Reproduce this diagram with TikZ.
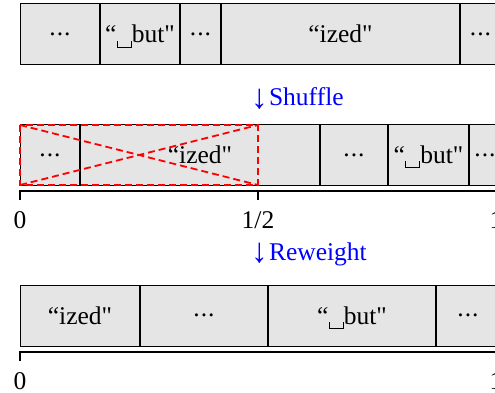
\documentclass[tikz,border=0pt]{standalone}
\usepackage{fontspec}
\setmainfont{Liberation Serif}[Ligatures=TeXOff]
\newcommand\vspc{\raisebox{-0.19em}{\rule{0.05em}{0.28em}\rule{0.5em}{0.05em}\rule{0.05em}{0.28em}}}
\newcommand\darr{\raisebox{-0.08em}{\scalebox{1.3}[1.35]{↓}}\kern0.05em}
\newcommand\dts{\raisebox{0.28em}{.\kern0.04em.\kern0.04em.}}
\tikzset{
  cell/.style={draw=black, fill=black!10, line width=1pt, minimum height=61pt,
    inner sep=0pt, text height=17pt, text depth=0pt, anchor=west,
    font=\fontsize{25.5}{30}\selectfont},
  reddash/.style={draw=red, line width=1.8pt, dash pattern=on 7pt off 4pt},
  ruler/.style={draw=black, line width=2pt},
  lab/.style={anchor=base, inner sep=0pt, font=\fontsize{25.5}{30}\selectfont},
  stepnote/.style={anchor=base west, inner sep=0pt, text=blue, font=\fontsize{25.5}{30}\selectfont}
}
\begin{document}
\begin{tikzpicture}[x=1pt, y=-1pt]
\useasboundingbox (0,0) rectangle (495,393);
\clip (0,0) rectangle (495,393);
% Row 1
\node[cell, minimum width=79pt]  (a1) at (20,34.5) {\dts};
\node[cell, minimum width=79pt]  (a2) at (a1.east) {“\vspc but"};
\node[cell, minimum width=40pt]  (a3) at (a2.east) {\dts};
\node[cell, minimum width=238pt] (a4) at (a3.east) {“ized"};
\node[cell, minimum width=40pt]  (a5) at (a4.east) {\dts};
% Shuffle
\node[stepnote] (shuf) at (251,106) {\darr Shuffle};
% Row 2
\node[cell, minimum width=59pt]  (b1) at (20,155) {\dts};
\node[cell, minimum width=239pt] (b2) at (b1.east) {“ized"};
\node[cell, minimum width=67pt]  (b3) at (b2.east) {\dts};
\node[cell, minimum width=80pt]  (b4) at (b3.east) {“\vspc but"};
\node[cell, minimum width=31pt]  (b5) at (b4.east) {\dts};
% red crossed box
\coordinate (r1) at (20,125);
\coordinate (r2) at (258,185);
\draw[reddash] (r1) rectangle (r2);
\draw[reddash] (r1) -- (r2);
\draw[reddash] (r1 |- r2) -- (r2 |- r1);
% ruler 2
\coordinate (u0) at (20,191);
\coordinate (uh) at (258,191);
\coordinate (u1) at (496,191);
\draw[ruler] ([yshift=-9pt]u0) -- (u0) -- (u1) -- ([yshift=-9pt]u1);
\draw[ruler] (uh) -- ([yshift=-9pt]uh);
\node[lab] (l0) at (20,228) {0};
\node[lab] (lh) at (258,228) {1/2};
\node[lab] (l1) at (496,228) {1};
% Reweight
\node[stepnote] (rew) at (251,260) {\darr Reweight};
% Row 3
\node[cell, minimum width=119pt] (c1) at (20,315.5) {“ized"};
\node[cell, minimum width=127pt] (c2) at (c1.east) {\dts};
\node[cell, minimum width=167pt] (c3) at (c2.east) {“\vspc but"};
\node[cell, minimum width=63pt]  (c4) at (c3.east) {\dts};
% ruler 3
\coordinate (v0) at (20,352);
\coordinate (v1) at (496,352);
\draw[ruler] ([yshift=-9pt]v0) -- (v0) -- (v1) -- ([yshift=-9pt]v1);
\node[lab] (m0) at (20,389) {0};
\node[lab] (m1) at (496,389) {1};
\end{tikzpicture}
\end{document}
